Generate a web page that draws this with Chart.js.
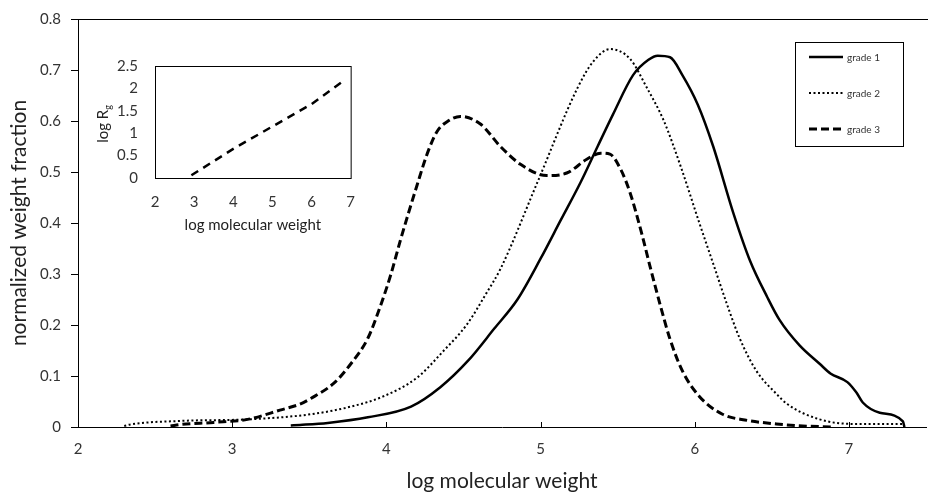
<!DOCTYPE html>
<html>
<head>
<meta charset="utf-8">
<script src="https://cdn.jsdelivr.net/npm/chart.js@4.4.0/dist/chart.umd.min.js"></script>
<style>
  html, body { margin: 0; padding: 0; background: #fff; }
  #wrap { position: relative; width: 928px; height: 500px; }
  #main { position: absolute; left: 0; top: 0; }
  #inset { position: absolute; left: 85px; top: 40px; }
</style>
</head>
<body>
<div id="wrap">
  <canvas id="main" width="928" height="500"></canvas>
  <canvas id="inset" width="285" height="200"></canvas>
</div>
<script>
// series: log molecular weight vs normalized weight fraction
const seriesNames = ['grade 1', 'grade 2', 'grade 3'];

const grade1X = [3.38, 3.44, 3.62, 3.88, 4.16, 4.35, 4.53, 4.70, 4.85, 5.00, 5.13, 5.26, 5.37, 5.47, 5.60, 5.70, 5.76, 5.84, 5.92, 6.02, 6.12, 6.25, 6.36, 6.47, 6.55, 6.68, 6.81, 6.88, 6.99, 7.05, 7.09, 7.20, 7.35, 7.36];
const grade1Y = [0.003, 0.004, 0.008, 0.019, 0.040, 0.078, 0.130, 0.193, 0.250, 0.330, 0.405, 0.480, 0.550, 0.613, 0.690, 0.720, 0.728, 0.725, 0.690, 0.632, 0.550, 0.420, 0.325, 0.255, 0.210, 0.160, 0.124, 0.105, 0.088, 0.067, 0.048, 0.028, 0.011, 0];

const grade2X = [2.30, 2.34, 2.67, 3.10, 3.51, 3.77, 3.98, 4.20, 4.37, 4.52, 4.65, 4.74, 4.98, 5.24, 5.34, 5.45, 5.58, 5.69, 5.80, 5.91, 6.03, 6.12, 6.21, 6.29, 6.40, 6.53, 6.60, 6.81, 7.03, 7.35, 7.36];
const grade2Y = [0.002, 0.005, 0.012, 0.015, 0.025, 0.040, 0.060, 0.097, 0.149, 0.200, 0.263, 0.310, 0.480, 0.665, 0.716, 0.741, 0.722, 0.665, 0.600, 0.510, 0.400, 0.320, 0.240, 0.175, 0.110, 0.065, 0.045, 0.015, 0.006, 0.006, 0];

const grade3X = [2.60, 2.67, 2.88, 3.10, 3.31, 3.44, 3.51, 3.66, 3.77, 3.88, 3.96, 4.03, 4.09, 4.20, 4.27, 4.33, 4.40, 4.48, 4.61, 4.74, 4.87, 5.04, 5.17, 5.30, 5.39, 5.45, 5.52, 5.58, 5.66, 5.71, 5.78, 5.84, 5.92, 6.03, 6.18, 6.34, 6.53, 6.70, 6.90];
const grade3Y = [0.002, 0.005, 0.009, 0.015, 0.033, 0.045, 0.056, 0.086, 0.124, 0.174, 0.236, 0.300, 0.365, 0.475, 0.540, 0.580, 0.600, 0.609, 0.594, 0.550, 0.515, 0.493, 0.498, 0.525, 0.537, 0.535, 0.505, 0.460, 0.375, 0.315, 0.235, 0.172, 0.110, 0.060, 0.025, 0.013, 0.006, 0.002, 0];

const xTicks = [2, 3, 4, 5, 6, 7];
const yTicks = [0, 0.1, 0.2, 0.3, 0.4, 0.5, 0.6, 0.7, 0.8];
const yTickLabels = ['0', '0.1', '0.2', '0.3', '0.4', '0.5', '0.6', '0.7', '0.8'];

// inset: log Rg vs log molecular weight
const insetX = [2.93, 4.0, 5.0, 6.0, 6.77];
const insetY = [0.06, 0.65, 1.15, 1.65, 2.14];
const insetXTicks = [2, 3, 4, 5, 6, 7];
const insetYTicks = [0, 0.5, 1, 1.5, 2, 2.5];
const insetYTickLabels = ['0', '0.5', '1', '1.5', '2', '2.5'];

const pts = (xs, ys) => xs.map((x, i) => ({x: x, y: ys[i]}));

Chart.defaults.font.family = 'Lato, "Open Sans", sans-serif';
Chart.defaults.color = '#333';

const mainFrame = {
  id: 'mainFrame',
  afterDraw(chart) {
    const {ctx, chartArea: a, scales: {x}} = chart;
    ctx.save();
    ctx.strokeStyle = '#000';
    ctx.lineWidth = 1;
    ctx.beginPath();
    ctx.moveTo(a.left, a.top + 0.5);
    ctx.lineTo(a.right + 2, a.top + 0.5);
    xTicks.forEach(v => {
      const px = Math.round(x.getPixelForValue(v)) + 0.5;
      ctx.moveTo(px, a.bottom);
      ctx.lineTo(px, a.bottom - 5);
    });
    ctx.stroke();

    // legend box in the upper right of the plot
    const bx = a.right - 131, by = a.top + 23, bw = 108, bh = 104;
    ctx.strokeRect(bx + 0.5, by + 0.5, bw, bh);
    ctx.font = '10px Lato, sans-serif';
    ctx.fillStyle = '#333';
    ctx.textBaseline = 'middle';
    chart.data.datasets.forEach((ds, i) => {
      const ly = by + 15 + i * 36;
      ctx.save();
      ctx.lineWidth = ds.borderWidth;
      ctx.setLineDash(ds.borderDash || []);
      ctx.beginPath();
      ctx.moveTo(bx + 14, ly);
      ctx.lineTo(bx + 48, ly);
      ctx.stroke();
      ctx.restore();
      ctx.fillText(ds.label, bx + 52, ly + 1);
    });
    ctx.restore();
  }
};

new Chart(document.getElementById('main'), {
  type: 'line',
  data: {
    datasets: [
      {label: seriesNames[0], data: pts(grade1X, grade1Y), borderColor: '#000', borderWidth: 2.5, borderDash: []},
      {label: seriesNames[1], data: pts(grade2X, grade2Y), borderColor: '#000', borderWidth: 2, borderDash: [2, 2.5]},
      {label: seriesNames[2], data: pts(grade3X, grade3Y), borderColor: '#000', borderWidth: 3, borderDash: [8, 4]}
    ]
  },
  options: {
    responsive: false,
    animation: false,
    devicePixelRatio: 1,
    elements: {point: {radius: 0}, line: {cubicInterpolationMode: 'monotone'}},
    layout: {padding: {top: 10, right: 2, left: 0, bottom: 0}},
    plugins: {legend: {display: false}, tooltip: {enabled: false}},
    scales: {
      x: {
        type: 'linear', min: 2, max: 7.5,
        afterBuildTicks: s => { s.ticks = xTicks.map(v => ({value: v})); },
        afterFit: s => { s.height = 73; },
        grid: {display: false, drawTicks: false},
        border: {color: '#000', width: 1},
        ticks: {padding: 13, font: {size: 15}, callback: v => String(v)},
        title: {display: true, text: 'log molecular weight', font: {size: 21}, color: '#222', padding: {bottom: 6}}
      },
      y: {
        min: 0, max: 0.8,
        afterBuildTicks: s => { s.ticks = yTicks.map(v => ({value: v})); },
        afterFit: s => { s.width = 78; },
        grid: {drawOnChartArea: false, tickLength: 7, color: '#000'},
        border: {color: '#000', width: 1},
        ticks: {padding: 10, font: {size: 15}, callback: (v, i) => yTickLabels[i]},
        title: {display: true, text: 'normalized weight fraction', font: {size: 21}, color: '#222', padding: {top: 7}}
      }
    }
  },
  plugins: [mainFrame]
});

const insetFrame = {
  id: 'insetFrame',
  afterDraw(chart) {
    const {ctx, chartArea: a} = chart;
    ctx.save();
    ctx.strokeStyle = '#000';
    ctx.lineWidth = 1;
    ctx.strokeRect(a.left + 0.5, a.top + 0.5, a.right - a.left, a.bottom - a.top);
    // y title "log Rg" with subscript g
    ctx.translate(18, (a.top + a.bottom) / 2 + 2);
    ctx.rotate(-Math.PI / 2);
    ctx.fillStyle = '#222';
    ctx.textBaseline = 'middle';
    ctx.font = '15px Lato, sans-serif';
    const main = 'log R';
    const w1 = ctx.measureText(main).width;
    ctx.font = '9px Lato, sans-serif';
    const w2 = ctx.measureText('g').width;
    const x0 = -(w1 + w2) / 2;
    ctx.font = '15px Lato, sans-serif';
    ctx.fillText(main, x0, 0);
    ctx.font = '9px Lato, sans-serif';
    ctx.fillText('g', x0 + w1, 5);
    ctx.restore();
  }
};

new Chart(document.getElementById('inset'), {
  type: 'line',
  data: {
    datasets: [
      {label: 'log Rg', data: pts(insetX, insetY), borderColor: '#000', borderWidth: 2.5, borderDash: [8, 6]}
    ]
  },
  options: {
    responsive: false,
    animation: false,
    devicePixelRatio: 1,
    elements: {point: {radius: 0}},
    layout: {padding: {top: 12, right: 16, left: 0, bottom: 0}},
    plugins: {legend: {display: false}, tooltip: {enabled: false}},
    scales: {
      x: {
        type: 'linear', min: 2, max: 7,
        afterBuildTicks: s => { s.ticks = insetXTicks.map(v => ({value: v})); },
        afterFit: s => { s.height = 62; },
        grid: {display: false, drawTicks: false},
        border: {display: false},
        ticks: {padding: 15, font: {size: 15}, callback: v => String(v)},
        title: {display: true, text: 'log molecular weight', font: {size: 15}, color: '#222', padding: {bottom: 6}}
      },
      y: {
        min: 0, max: 2.5,
        afterBuildTicks: s => { s.ticks = insetYTicks.map(v => ({value: v})); },
        afterFit: s => { s.width = 70; },
        grid: {display: false, drawTicks: false},
        border: {display: false},
        ticks: {padding: 17, font: {size: 15}, callback: (v, i) => insetYTickLabels[i]}
      }
    }
  },
  plugins: [insetFrame]
});
</script>
</body>
</html>
